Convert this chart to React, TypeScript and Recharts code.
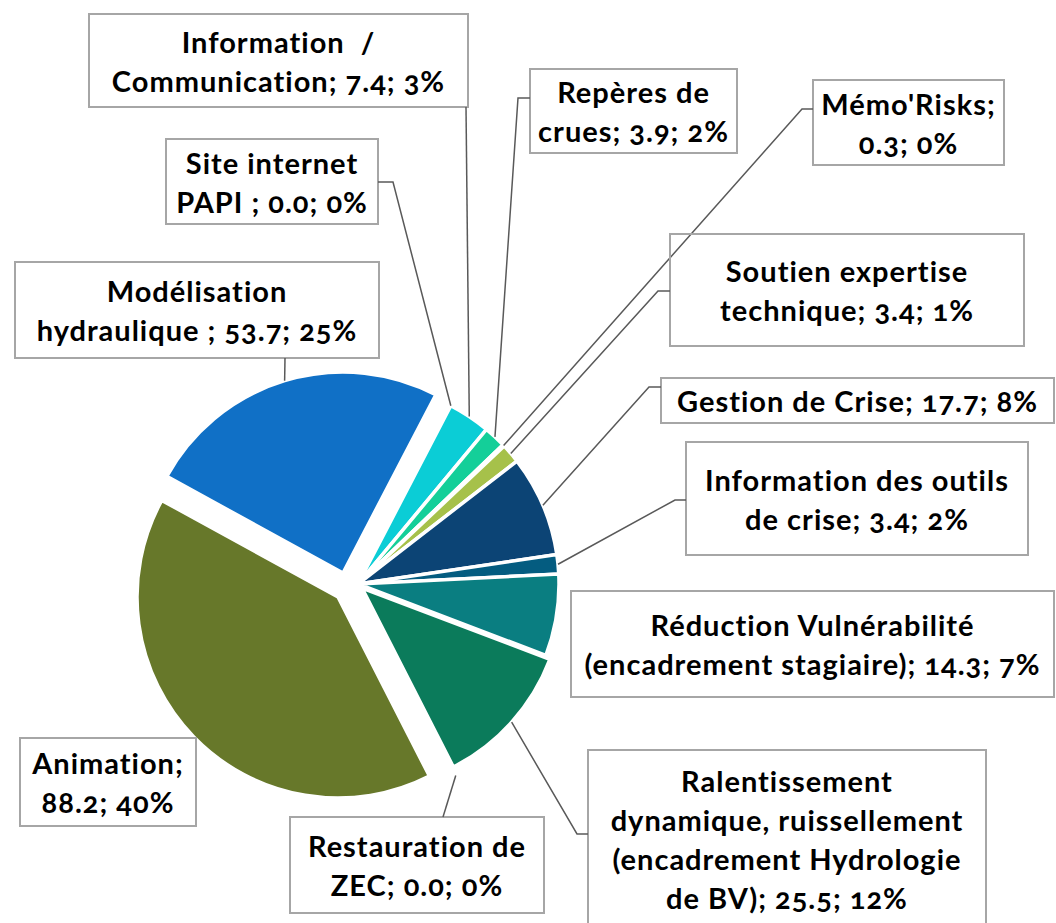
import React from "react";
import { PieChart, Pie, Cell } from "recharts";

// ---------- data ----------
const categories = [
  "Information  /\nCommunication",
  "Repères de\ncrues",
  "Mémo'Risks",
  "Soutien expertise\ntechnique",
  "Gestion de Crise",
  "Information des outils\nde crise",
  "Réduction Vulnérabilité\n(encadrement stagiaire)",
  "Ralentissement\ndynamique, ruissellement\n(encadrement Hydrologie\nde BV)",
  "Restauration de\nZEC",
  "Animation",
  "Modélisation\nhydraulique ",
  "Site internet\nPAPI ",
];
const values = [7.4, 3.9, 0.3, 3.4, 17.7, 3.4, 14.3, 25.5, 0.0, 88.2, 53.7, 0.0];
const percentLabels = [3, 2, 0, 1, 8, 2, 7, 12, 0, 40, 25, 0];
const breakAfterName = [false, false, true, false, false, false, false, false, false, true, false, false];

// ---------- styles / layout ----------
const colors = [
  "#0BCDD6", "#14CF99", "#3FC3A0", "#A6C14A", "#0C4475", "#045C80",
  "#0A7E81", "#0B7B5B", "#7F7F7F", "#67782A", "#1070C6", "#7F7F7F",
];

const W = 1056;
const H = 923;
const R = 201;
const START = 62.5; // recharts degrees (27.5° clockwise from 12 o'clock)

const pieGroups = [
  { key: "olive", cx: 338, cy: 597, members: [9] },
  { key: "blue", cx: 343, cy: 573, members: [10] },
  { key: "ralent", cx: 362, cy: 588, members: [7] },
  { key: "main", cx: 358, cy: 584, members: [0, 1, 2, 3, 4, 5, 6, 8, 11] },
];

type Box = { x: number; y: number; w: number; h: number; leader: number[][] | null; ext?: number };
const labelBoxes: Box[] = [
  { x: 89, y: 14, w: 379, h: 93, leader: [[466, 107]] },
  { x: 530, y: 69, w: 207, h: 84, leader: [[530, 98], [518, 98]] },
  { x: 813, y: 80, w: 191, h: 85, leader: [[813, 109], [802, 109]] },
  { x: 670, y: 234, w: 354, h: 112, leader: [[670, 291], [658, 291]] },
  { x: 661, y: 378, w: 393, h: 45, leader: [[661, 387], [649, 387]] },
  { x: 686, y: 442, w: 342, h: 113, leader: [[686, 500], [675, 500]] },
  { x: 571, y: 591, w: 483, h: 106, leader: null },
  { x: 588, y: 750, w: 398, h: 178, leader: [[588, 834], [577, 834]] },
  { x: 290, y: 817, w: 254, h: 96, leader: [[443, 817]], ext: 14 },
  { x: 20, y: 738, w: 176, h: 88, leader: null },
  { x: 15, y: 262, w: 364, h: 96, leader: [[285, 358]] },
  { x: 166, y: 139, w: 212, h: 85, leader: [[378, 182], [393, 182]] },
];

const FONT = "Lato, 'Open Sans', sans-serif";
const FONT_SIZE = 29;
const LETTER_SPACING = 1;
const LINE_H = 39;
const RAD = Math.PI / 180;

const data = categories.map((name, i) => ({ name, value: values[i] }));

const labelText = (i: number) =>
  `${categories[i]};${breakAfterName[i] ? "\n" : " "}${values[i].toFixed(1)}; ${percentLabels[i]}%`;

const makeLabel = (members: number[]) => (props: any) => {
  const { index, cx, cy, midAngle, outerRadius } = props;
  if (!members.includes(index)) return <g key={`lbl-${index}`} />;
  const box = labelBoxes[index];
  const lines = labelText(index).split("\n");
  const n = lines.length;
  const r = outerRadius + (box.ext ?? 0);
  const ex = cx + r * Math.cos(-midAngle * RAD);
  const ey = cy + r * Math.sin(-midAngle * RAD);
  const pts = box.leader ? [...box.leader, [ex, ey]] : null;
  return (
    <g key={`lbl-${index}`}>
      <rect x={box.x} y={box.y} width={box.w} height={box.h} fill="none" stroke="#A6A6A6" strokeWidth={2} />
      {pts && (
        <polyline
          points={pts.map((p) => p.join(",")).join(" ")}
          fill="none"
          stroke="#595959"
          strokeWidth={1.5}
        />
      )}
      {lines.map((ln, k) => (
        <text
          key={k}
          x={box.x + box.w / 2}
          y={box.y + box.h / 2 + (k - (n - 1) / 2) * LINE_H}
          textAnchor="middle"
          dominantBaseline="central"
          fontFamily={FONT}
          fontWeight={700}
          fontSize={FONT_SIZE}
          letterSpacing={LETTER_SPACING}
          fill="#000"
          style={{ whiteSpace: "pre", fontVariantNumeric: "oldstyle-nums" }}
        >
          {ln}
        </text>
      ))}
    </g>
  );
};

export default function App() {
  return (
    <div style={{ position: "absolute", left: 0, top: 0, width: W, height: H, background: "#fff" }}>
      <PieChart width={W} height={H} margin={{ top: 0, right: 0, bottom: 0, left: 0 }}>
        {pieGroups.map((g) => (
          <Pie
            key={g.key}
            data={data}
            dataKey="value"
            nameKey="name"
            cx={g.cx}
            cy={g.cy}
            outerRadius={R}
            startAngle={START}
            endAngle={START - 360}
            isAnimationActive={false}
            labelLine={false}
            label={makeLabel(g.members)}
          >
            {data.map((_, i) =>
              g.members.includes(i) ? (
                <Cell key={i} fill={colors[i]} stroke="#fff" strokeWidth={3.5} />
              ) : (
                <Cell key={i} fill="none" stroke="none" />
              )
            )}
          </Pie>
        ))}
      </PieChart>
    </div>
  );
}
